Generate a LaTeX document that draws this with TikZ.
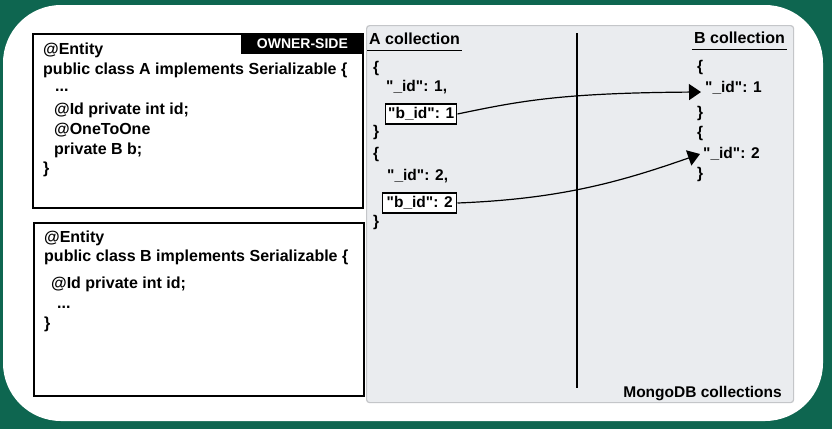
\documentclass[tikz,border=0pt]{standalone}
\usepackage{fontspec}
\setmainfont{Liberation Sans}[Ligatures=TeXOff]
\usetikzlibrary{arrows.meta,positioning}
\definecolor{framegreen}{RGB}{14,102,80}
\definecolor{panelgray}{RGB}{234,236,239}
\definecolor{paneledge}{RGB}{196,198,201}

\begin{document}
\begin{tikzpicture}[x=1pt, y=-1pt,
  every node/.style={font=\fontsize{16}{19}\selectfont\bfseries, inner sep=0pt},
  codebox/.style={draw=black, line width=1.6pt, fill=white, minimum width=330pt, minimum height=174pt, anchor=north west},
  code/.style={anchor=base west},
  heading/.style={inner xsep=2pt, text depth=6pt},
  doc/.style={anchor=west, font=\fontsize{15.5}{18}\selectfont\bfseries},
  idbox/.style={doc, draw=black, line width=1.4pt, fill=white, inner xsep=2.5pt, inner ysep=3.5pt},
  link/.style={-{Triangle[length=12pt, width=16pt]}, line width=1.2pt}]
  \useasboundingbox (0,0) rectangle (832,429);
  % frame
  \fill[framegreen] (0,0) rectangle (832,429);
  \fill[white, rounded corners=58pt] (3,5) rectangle (823,421);

  % Java classes
  \node[codebox] (classA) at (32,33) {};
  \node[fill=black, text=white, minimum width=122pt, minimum height=21pt, anchor=north east, font=\fontsize{14}{16}\selectfont\bfseries] (ownerSide) at (classA.north east) {OWNER-SIDE};
  \node[code] (a1) at (43,54) {@Entity};
  \node[code] (a2) at (43,74) {public class A implements Serializable \{};
  \node[code] (a3) at (55,91) {...};
  \node[code] (a4) at (54,114) {@Id private int id;};
  \node[code] (a5) at (54,134) {@OneToOne};
  \node[code] (a6) at (54,154) {private B b;};
  \node[code] (a7) at (43,173) {\}};

  \node[codebox, minimum height=173pt] (classB) at (33,222) {};
  \node[code] (b1) at (44,242) {@Entity};
  \node[code] (b2) at (44,261) {public class B implements Serializable \{};
  \node[code] (b3) at (51,288) {@Id private int id;};
  \node[code] (b4) at (57,308) {...};
  \node[code] (b5) at (44,328) {\}};

  % MongoDB collections
  \node[draw=paneledge, fill=panelgray, line width=1.2pt, rounded corners=3pt, minimum width=427pt, minimum height=377pt, anchor=north west] (panel) at (366,25) {};
  \draw[line width=1.2pt] (577,33) -- (577,388);
  \node[heading, anchor=base west] (headA) at (367,44) {A collection};
  \node[heading, anchor=base east] (headB) at (787,43) {B collection};
  \draw[line width=1.2pt] (headA.south west) -- (headA.south east);
  \draw[line width=1.2pt] (headB.south west) -- (headB.south east);

  \node[doc] (openA1) at (373,68) {\{};
  \node[doc] (idA1) at (386,87) {"\_id": 1,};
  \node[idbox] (bidA1) at (385,114) {"b\_id": 1};
  \node[doc] (closeA1) at (373,132) {\}};
  \node[doc] (openA2) at (373,154) {\{};
  \node[doc] (idA2) at (387,176) {"\_id": 2,};
  \node[idbox, inner xsep=4pt] (bidA2) at (382,203) {"b\_id": 2};
  \node[doc] (closeA2) at (373,222) {\}};

  \node[doc] (openB1) at (697,67) {\{};
  \node[doc, inner xsep=4pt] (idB1) at (701,88) {"\_id": 1};
  \node[doc] (closeB1) at (697,113) {\}};
  \node[doc] (openB2) at (697,133) {\{};
  \node[doc, inner xsep=3pt] (idB2) at (700,154) {"\_id": 2};
  \node[doc] (closeB2) at (697,174) {\}};

  \draw[link] (bidA1.east) .. controls (520,101) and (560,93) .. ([yshift=-4pt]idB1.west);
  \draw[link] (bidA2.east) .. controls (560,199) and (620,182) .. (idB2.west);

  \node[anchor=base east, font=\fontsize{15.5}{18}\selectfont\bfseries] (mongo) at (782,397) {MongoDB collections};
\end{tikzpicture}
\end{document}
